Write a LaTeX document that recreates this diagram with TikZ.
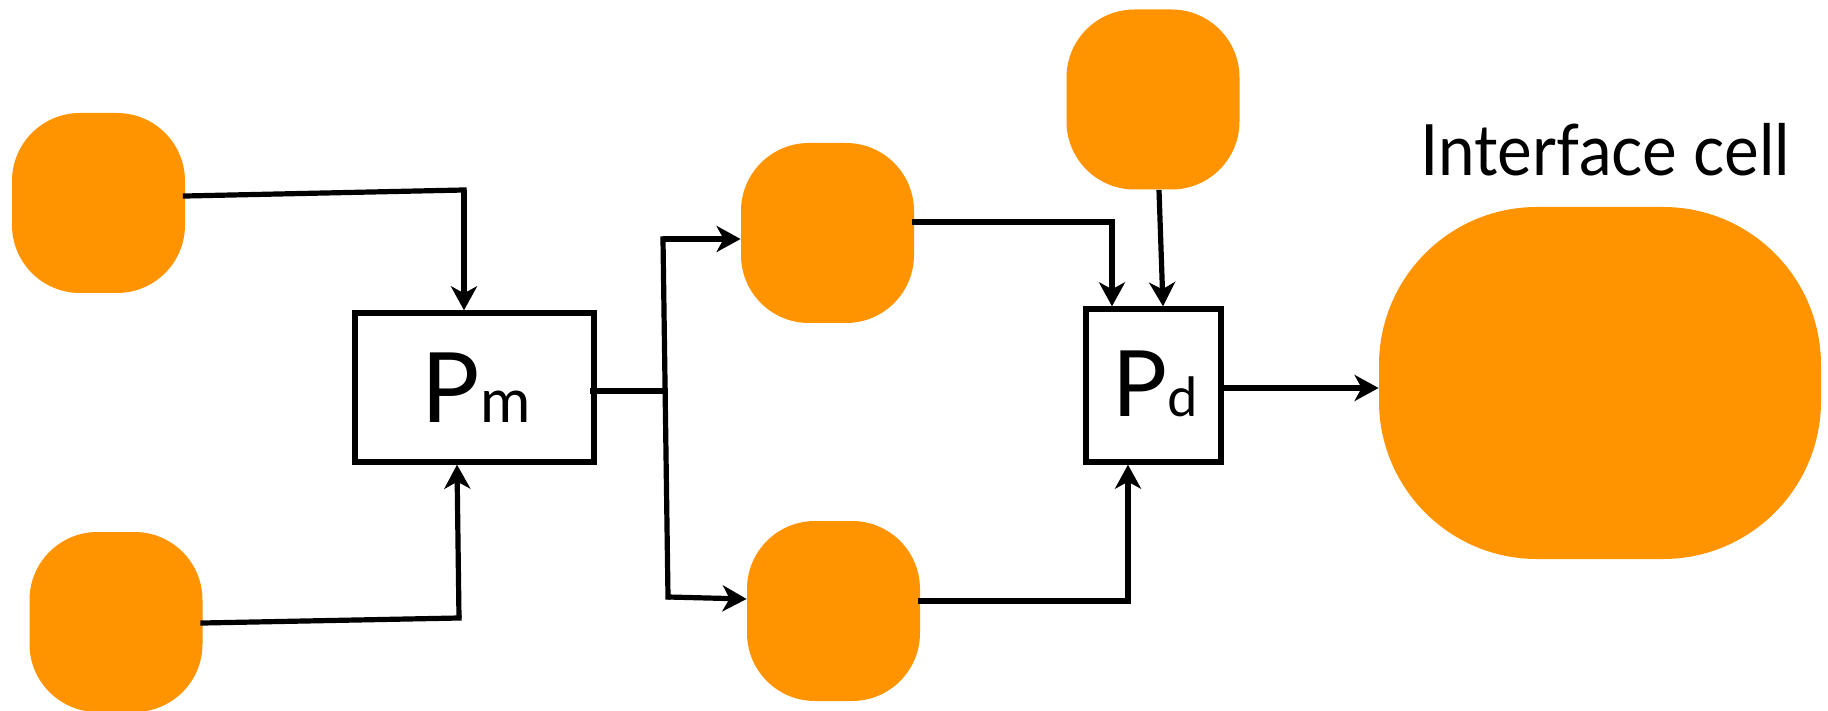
\documentclass[tikz,border=0pt]{standalone}
\usepackage{fontspec}
\setmainfont{Lato}
\usetikzlibrary{arrows.meta}
\definecolor{cellorange}{RGB}{255,148,0}
\begin{document}
\begin{tikzpicture}[x=0.5pt,y=-0.5pt,
  cell/.style={fill=cellorange, draw=none, inner sep=0pt,
    minimum width=86.5pt, minimum height=90pt, rounded corners=34pt},
  bigcell/.style={cell, minimum width=221pt, minimum height=176pt, rounded corners=79pt},
  procbox/.style={draw=black, line width=2.7pt, fill=white, inner sep=0pt},
  link/.style={line width=2.6pt, line cap=rect, line join=miter},
  flow/.style={line width=2.6pt, -{Stealth[length=12pt,width=13pt,inset=3.5pt]}},
  label/.style={inner sep=0pt},
]
\useasboundingbox (0,0) rectangle (1828,711);

% cells
\node[cell] (A) at (98.5,203) {};
\node[cell] (B) at (116,622) {};
\node[cell] (C) at (827.5,233) {};
\node[cell] (D) at (833.5,611) {};
\node[cell] (E) at (1153,99.5) {};
\node[bigcell] (F) at (1600,383) {};
\node[label, anchor=base west, font=\fontsize{35.4}{40}\selectfont] (title) at (1420,176) {\scalebox{0.926}[1]{Interface cell}};

% process boxes
\node[procbox, minimum width=119.5pt, minimum height=74.5pt] (Pm) at (474.5,387.5) {};
\node[procbox, minimum width=67.5pt, minimum height=76.5pt] (Pd) at (1153.5,385.5) {};

% box labels
\node[label] (pmtext) at (476,388) {{\fontsize{48.6}{50}\selectfont P}{\fontsize{30.6}{32}\selectfont m}};
\node[label] (pdtext) at (1155,384) {{\fontsize{45.8}{48}\selectfont P}{\fontsize{27}{29}\selectfont d}};

% corner points of the elbow connectors
\coordinate (a1) at (464,190);
\coordinate (b1) at (459,618);
\coordinate (b2) at (457,618);
\coordinate (jm) at (665,391);
\coordinate (jt) at (663,239);
\coordinate (jb) at (668,597);
\coordinate (c1) at (1112,222);
\coordinate (e1) at (1163,222);
\coordinate (d1) at (1128,601);

% inputs of Pm
\draw[link] ([yshift=3.5pt]A.east) -- (a1);
\draw[flow] (a1) -- (a1 |- Pm.north);
\draw[link] ([yshift=-0.5pt]B.east) -- (b1);
\draw[flow] (b1) -- (b2 |- Pm.south);

% Pm splits into C and D
\draw[link] ([yshift=-1.75pt,xshift=-2pt]Pm.east) -- (jm);
\draw[link] (jt) -- (jb);
\draw[flow] (jt) -- (C.west |- jt);
\draw[flow] (jb) -- ([yshift=-1pt]D.west |- jb);

% inputs of Pd
\draw[link] ([yshift=5.5pt]C.east) -- (c1);
\draw[flow] (c1) -- (c1 |- Pd.north);
\draw[flow] ([xshift=3pt]E.south) -- (e1 |- Pd.north);
\draw[link] ([yshift=5pt]D.east) -- (d1);
\draw[flow] (d1) -- (d1 |- Pd.south);

% Pd feeds the interface cell
\coordinate (p1) at ([yshift=-1.25pt]Pd.east);
\draw[flow] (p1) -- (F.west |- p1);
\end{tikzpicture}
\end{document}
